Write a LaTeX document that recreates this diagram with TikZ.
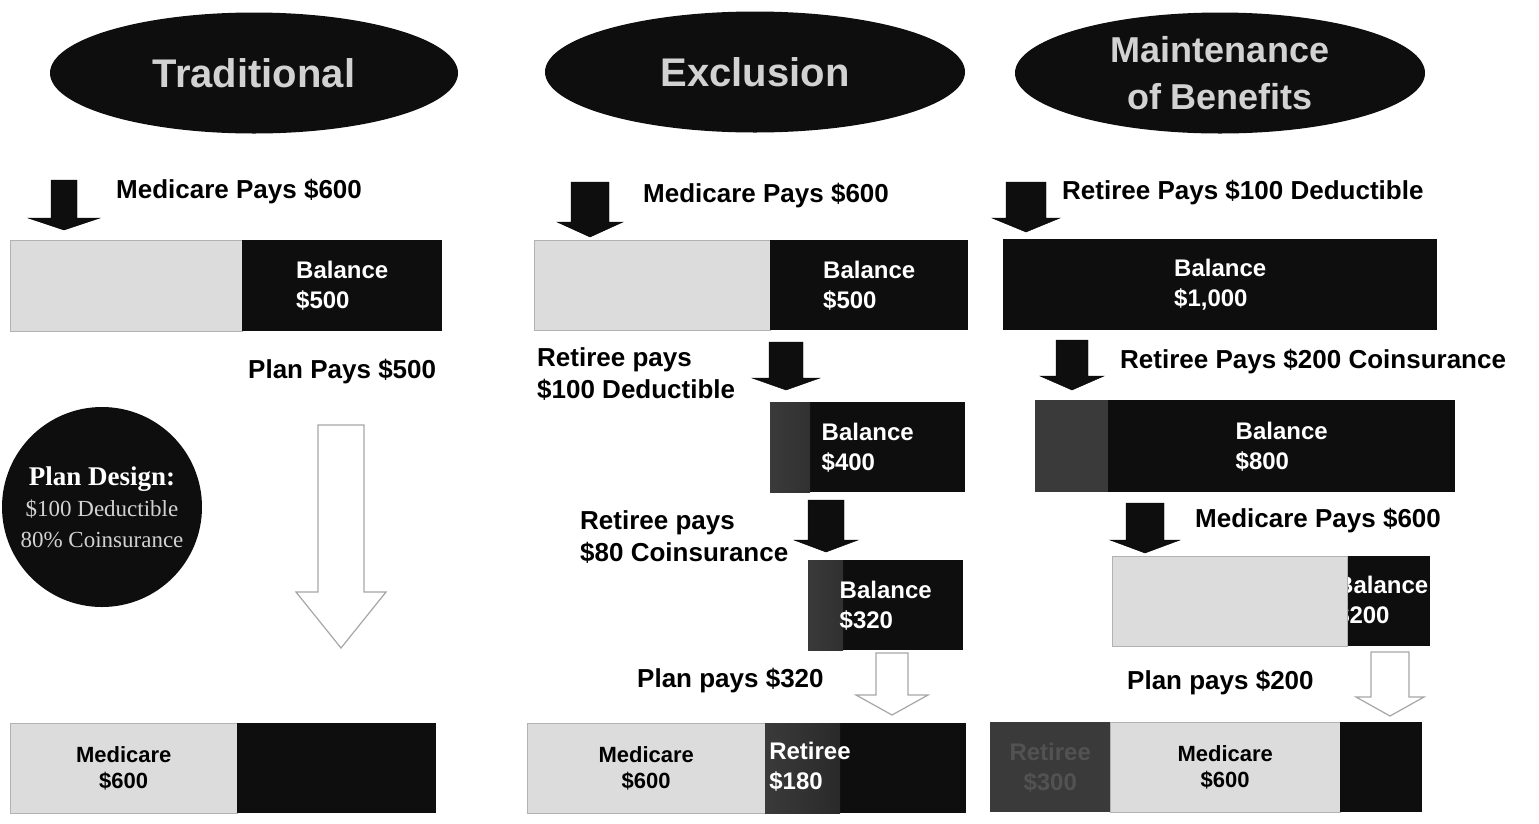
\documentclass[tikz,border=0pt]{standalone}
\usepackage{fontspec}
\setmainfont{Liberation Sans}
\newfontfamily\plainserif{Liberation Serif}
\usetikzlibrary{shapes.geometric}

\definecolor{barlight}{HTML}{DCDCDC}
\definecolor{bardark}{HTML}{0E0E0E}
\definecolor{bargrey}{HTML}{3A3A3A}
\definecolor{headtext}{HTML}{D2D2D2}

% block arrow pointing down: style, x, top, shaft half, head half, head base, tip
\newcommand{\downblock}[7]{%
  \draw[#1] (#2-#4,#3) -- (#2+#4,#3) -- (#2+#4,#6) -- (#2+#5,#6)
    -- (#2,#7) -- (#2-#5,#6) -- (#2-#4,#6) -- cycle;}

\tikzset{
  headoval/.style={ellipse, fill=bardark, text=headtext, inner sep=0,
    minimum height=121, align=center, font=\fontsize{40}{46}\selectfont\bfseries},
  plancircle/.style={circle, fill=bardark, minimum size=200, inner sep=0,
    text=headtext, align=center, font=\plainserif\fontsize{23}{31}\selectfont},
  lightbar/.style={rectangle, draw=gray!60, fill=barlight, anchor=north west,
    minimum height=91, inner sep=0, align=center,
    font=\fontsize{22}{26}\selectfont\bfseries},
  darkbar/.style={rectangle, fill=bardark, anchor=north west, minimum height=91,
    inner sep=0, align=left, text=white, font=\fontsize{24}{30}\selectfont\bfseries},
  greybar/.style={darkbar, fill=bargrey},
  greyedge/.style={path picture={\shade[left color=bargrey, right color=bardark]
    (path picture bounding box.north west) rectangle
    ([xshift=#1]path picture bounding box.south west);}},
  baltext/.style={inner sep=0, align=left, text=white,
    font=\fontsize{24}{30}\selectfont\bfseries},
  paylabel/.style={anchor=west, inner sep=0, align=left,
    font=\fontsize{26}{32}\selectfont\bfseries},
  solidarrow/.style={fill=bardark},
  hollowarrow/.style={draw=gray!70, fill=white, line width=1.2pt},
}

\begin{document}
\begin{tikzpicture}[x=1pt,y=-1pt]
\useasboundingbox (0,0) rectangle (1539,823);
\fill[white] (0,0) rectangle (1539,823);

% headings
\node[headoval, minimum width=408] (tradHead) at (254,73) {Traditional};
\node[headoval, minimum width=420] (exHead) at (755,72) {Exclusion};
\node[headoval, minimum width=410, font=\fontsize{36}{47}\selectfont\bfseries]
  (mobHead) at (1220,73) {Maintenance\\of Benefits};

% traditional
\downblock{solidarrow}{64}{180}{13}{36}{218}{230}
\node[paylabel] (tradMedPays) at (116,192) {Medicare Pays \$600};
\node[lightbar, minimum width=232] (tradMed) at (10,240) {};
\node[darkbar, minimum width=200] (tradBal) at (242,240) {Balance\\\$500};
\node[paylabel] (tradPlanPays) at (248,372) {Plan Pays \$500};
\node[plancircle] (planDesign) at (102,507)
  {{\fontsize{27}{31}\selectfont\bfseries\color{white}Plan Design:}\\\$100 Deductible\\80\% Coinsurance};
\downblock{hollowarrow}{341}{425}{23}{45}{592}{648}
\node[lightbar, minimum width=227, minimum height=90] (tradMedEnd) at (10,723) {Medicare\\\$600};
\node[darkbar, minimum width=199, minimum height=90] (tradPlanEnd) at (237,723) {};

% exclusion
\downblock{solidarrow}{590}{182}{19}{33}{222}{237}
\node[paylabel] (exMedPays) at (643,196) {Medicare Pays \$600};
\node[lightbar, minimum width=236, minimum height=90] (exMed) at (534,240) {};
\node[darkbar, minimum width=198, minimum height=90] (exBal1) at (770,240) {Balance\\\$500};
\downblock{solidarrow}{786}{342}{17}{34}{378}{390}
\node[paylabel] (exRetDed) at (537,374) {Retiree pays\\\$100 Deductible};
\node[darkbar, minimum width=195, minimum height=90, greyedge=40pt] (exBal2) at (770,402) {Balance\\\$400};
\downblock{solidarrow}{826}{500}{18}{32}{540}{552}
\node[paylabel] (exRetCoins) at (580,537) {Retiree pays\\\$80 Coinsurance};
\node[darkbar, minimum width=155, minimum height=90, greyedge=35pt] (exBal3) at (808,560) {Balance\\\$320};
\downblock{hollowarrow}{892}{653}{16}{36}{695}{715}
\node[paylabel] (exPlanPays) at (637,681) {Plan pays \$320};
\node[lightbar, minimum width=238, minimum height=90] (exMedEnd) at (527,723) {Medicare\\\$600};
\node[darkbar, minimum width=201, minimum height=90, greyedge=75pt] (exRetEnd) at (765,723) {};
\node[baltext] (exRetText) at (810,767) {Retiree\\\$180};

% maintenance of benefits
\downblock{solidarrow}{1026}{182}{20}{34}{218}{232}
\node[paylabel] (mobRetDed) at (1062,193) {Retiree Pays \$100 Deductible};
\node[darkbar, minimum width=434] (mobBal1) at (1003,239) {Balance\\\$1,000};
\downblock{solidarrow}{1072}{340}{16}{32}{376}{390}
\node[paylabel] (mobRetCoins) at (1120,362) {Retiree Pays \$200 Coinsurance};
\node[greybar, minimum width=73, minimum height=92] (mobRet1) at (1035,400) {};
\node[darkbar, minimum width=347, minimum height=92] (mobBal2) at (1108,400) {Balance\\\$800};
\downblock{solidarrow}{1145}{503}{19}{35}{540}{553}
\node[paylabel] (mobMedPays) at (1195,521) {Medicare Pays \$600};
\node[darkbar, minimum width=83, minimum height=90] (mobBal3) at (1347,556) {};
\begin{scope}
  \clip (mobBal3.north west) rectangle (mobBal3.south east);
  \node[baltext, anchor=west] (mobBalText) at (1336,601) {Balance\\\$200};
\end{scope}
\node[lightbar, minimum width=235, minimum height=90] (mobMed) at (1112,556) {};
\downblock{hollowarrow}{1390}{652}{19}{34}{697}{716}
\node[paylabel] (mobPlanPays) at (1127,683) {Plan pays \$200};
\node[greybar, minimum width=120, minimum height=90, align=center, text=black!68]
  (mobRetEnd) at (990,722) {Retiree\\\$300};
\node[lightbar, minimum width=230, minimum height=90] (mobMedEnd) at (1110,722) {Medicare\\\$600};
\node[darkbar, minimum width=82, minimum height=90] (mobPlanEnd) at (1340,722) {};
\end{tikzpicture}
\end{document}
